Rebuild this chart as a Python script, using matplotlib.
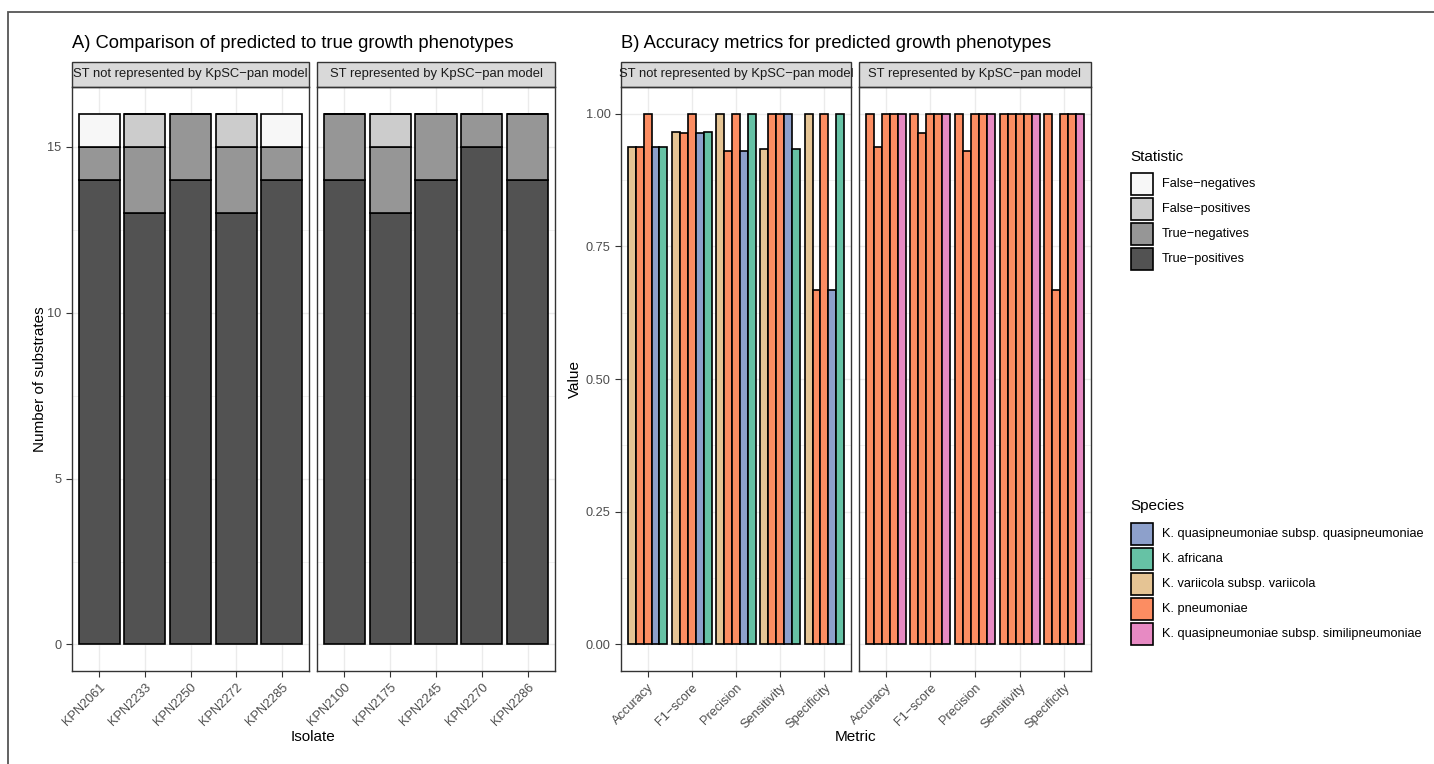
import matplotlib
matplotlib.use('Agg')
import matplotlib.pyplot as plt
from matplotlib.patches import Rectangle

plt.rcParams['font.family'] = ['Liberation Sans', 'DejaVu Sans']

# data: panel A (counts of substrates per isolate)
facets = ['ST not represented by KpSC\u2212pan model', 'ST represented by KpSC\u2212pan model']
isolates_not = ['KPN2061', 'KPN2233', 'KPN2250', 'KPN2272', 'KPN2285']
isolates_rep = ['KPN2100', 'KPN2175', 'KPN2245', 'KPN2270', 'KPN2286']
statistics = ['False\u2212negatives', 'False\u2212positives', 'True\u2212negatives', 'True\u2212positives']

tp_not = [14, 13, 14, 13, 14]
tn_not = [1, 2, 2, 2, 1]
fp_not = [0, 1, 0, 1, 0]
fn_not = [1, 0, 0, 0, 1]

tp_rep = [14, 13, 14, 15, 14]
tn_rep = [2, 2, 2, 1, 2]
fp_rep = [0, 1, 0, 0, 0]
fn_rep = [0, 0, 0, 0, 0]

# data: panel B (metrics per isolate, one row per isolate)
metrics = ['Accuracy', 'F1\u2212score', 'Precision', 'Sensitivity', 'Specificity']
species_names = ['K. quasipneumoniae subsp. quasipneumoniae', 'K. africana',
                 'K. variicola subsp. variicola', 'K. pneumoniae',
                 'K. quasipneumoniae subsp. similipneumoniae']
species_not = ['K. variicola subsp. variicola', 'K. pneumoniae', 'K. pneumoniae',
               'K. quasipneumoniae subsp. quasipneumoniae', 'K. africana']
species_rep = ['K. pneumoniae', 'K. pneumoniae', 'K. pneumoniae', 'K. pneumoniae',
               'K. quasipneumoniae subsp. similipneumoniae']
values_not = [
    [0.9375, 0.9655, 1.0, 0.9333, 1.0],
    [0.9375, 0.9630, 0.9286, 1.0, 0.6667],
    [1.0, 1.0, 1.0, 1.0, 1.0],
    [0.9375, 0.9630, 0.9286, 1.0, 0.6667],
    [0.9375, 0.9655, 1.0, 0.9333, 1.0],
]
values_rep = [
    [1.0, 1.0, 1.0, 1.0, 1.0],
    [0.9375, 0.9630, 0.9286, 1.0, 0.6667],
    [1.0, 1.0, 1.0, 1.0, 1.0],
    [1.0, 1.0, 1.0, 1.0, 1.0],
    [1.0, 1.0, 1.0, 1.0, 1.0],
]

stat_colors = {'False\u2212negatives': '#F7F7F7', 'False\u2212positives': '#CCCCCC',
               'True\u2212negatives': '#969696', 'True\u2212positives': '#525252'}
species_colors = {'K. quasipneumoniae subsp. quasipneumoniae': '#8DA0CB',
                  'K. africana': '#66C2A5',
                  'K. variicola subsp. variicola': '#E5C494',
                  'K. pneumoniae': '#FC8D62',
                  'K. quasipneumoniae subsp. similipneumoniae': '#E78AC3'}

W, H = 1434, 764
fig = plt.figure(figsize=(W / 100, H / 100), dpi=100)

# outer frame
fig.add_artist(Rectangle((8 / W, -0.02), 1.1, 1 - 12 / H + 0.02, transform=fig.transFigure,
                         fill=False, edgecolor='#555555', lw=1.3))


def panel(x0, x1, y0=87, y1=671):
    return fig.add_axes([x0 / W, 1 - y1 / H, (x1 - x0) / W, (y1 - y0) / H])


def style(ax, title, yticks, yminor, ylabels, show_y):
    for s in ax.spines.values():
        s.set_color('#333333')
        s.set_linewidth(1.0)
    ax.set_axisbelow(True)
    ax.set_yticks(yticks)
    ax.set_yticks(yminor, minor=True)
    ax.grid(which='major', color='#EBEBEB', lw=1.0)
    ax.grid(which='minor', axis='y', color='#EBEBEB', lw=0.5)
    ax.tick_params(which='minor', length=0)
    ax.tick_params(which='major', length=4, width=0.8, color='#333333',
                   labelcolor='#4D4D4D', labelsize=9.2)
    if show_y:
        ax.set_yticklabels(ylabels)
    else:
        ax.tick_params(axis='y', left=False, labelleft=False)
    for lab in ax.get_xticklabels():
        lab.set_rotation(45)
        lab.set_ha('right')
        lab.set_va('top')
        lab.set_rotation_mode('anchor')
    # strip
    h = 25 / (ax.get_position().height * H)
    r = Rectangle((0, 1), 1, h, transform=ax.transAxes, facecolor='#D9D9D9',
                  edgecolor='#333333', lw=1.0, clip_on=False)
    ax.add_patch(r)
    t = ax.text(0.5, 1 + h / 2, title, transform=ax.transAxes, ha='center', va='center',
                fontsize=9.4, color='#1A1A1A')
    t.set_clip_path(r)


# panel A
for k, (x0, x1) in enumerate([(72, 309), (317, 555)]):
    ax = panel(x0, x1)
    isolates = [isolates_not, isolates_rep][k]
    tp, tn, fp, fn = [(tp_not, tn_not, fp_not, fn_not), (tp_rep, tn_rep, fp_rep, fn_rep)][k]
    bottom = [0] * len(isolates)
    for name, vals in [('True\u2212positives', tp), ('True\u2212negatives', tn),
                       ('False\u2212positives', fp), ('False\u2212negatives', fn)]:
        ax.bar(isolates, vals, bottom=bottom, width=0.9, color=stat_colors[name],
               edgecolor='black', lw=1.2)
        bottom = [b + v for b, v in zip(bottom, vals)]
    ax.set_xlim(-0.6, 4.6)
    ax.set_ylim(-0.8, 16.8)
    style(ax, facets[k], [0, 5, 10, 15], [2.5, 7.5, 12.5], ['0', '5', '10', '15'], k == 0)

# panel B
for k, (x0, x1) in enumerate([(621, 851), (859, 1091)]):
    ax = panel(x0, x1)
    vals = [values_not, values_rep][k]
    spec = [species_not, species_rep][k]
    bw = 0.9 / 5
    for j in range(5):
        pos = [i + (j - 2) * bw for i in range(len(metrics))]
        ax.bar(pos, vals[j], width=bw, color=species_colors[spec[j]],
               edgecolor='black', lw=1.2)
    ax.set_xticks(range(len(metrics)))
    ax.set_xticklabels(metrics)
    ax.set_xlim(-0.6, 4.6)
    ax.set_ylim(-0.05, 1.05)
    style(ax, facets[k], [0, 0.25, 0.5, 0.75, 1.0], [0.125, 0.375, 0.625, 0.875],
          ['0.00', '0.25', '0.50', '0.75', '1.00'], k == 0)

# titles and axis labels
fig.text(72 / W, 1 - 44 / H, 'A) Comparison of predicted to true growth phenotypes',
         fontsize=13.2, va='center', ha='left')
fig.text(621 / W, 1 - 44 / H, 'B) Accuracy metrics for predicted growth phenotypes',
         fontsize=13.2, va='center', ha='left')
fig.text(313 / W, 1 - 737 / H, 'Isolate', fontsize=11, ha='center', va='center')
fig.text(856 / W, 1 - 737 / H, 'Metric', fontsize=11, ha='center', va='center')
fig.text(40 / W, 1 - 379 / H, 'Number of substrates', fontsize=11, rotation=90,
         ha='center', va='center')
fig.text(575 / W, 1 - 379 / H, 'Value', fontsize=11, rotation=90, ha='center', va='center')


def legend(title, labels, colors, ytitle, ykey):
    fig.text(1130 / W, 1 - ytitle / H, title, fontsize=11, ha='left', va='center')
    for i, lab in enumerate(labels):
        y = ykey + i * 25
        fig.add_artist(Rectangle((1131 / W, 1 - (y + 22) / H), 22 / W, 22 / H,
                                 transform=fig.transFigure, facecolor=colors[lab],
                                 edgecolor='black', lw=1.2))
        fig.text(1162 / W, 1 - (y + 11) / H, lab, fontsize=9.2, ha='left', va='center')


legend('Statistic', statistics, stat_colors, 157, 173)
legend('Species', species_names, species_colors, 506, 523)

fig.savefig('out.png', dpi=100)
